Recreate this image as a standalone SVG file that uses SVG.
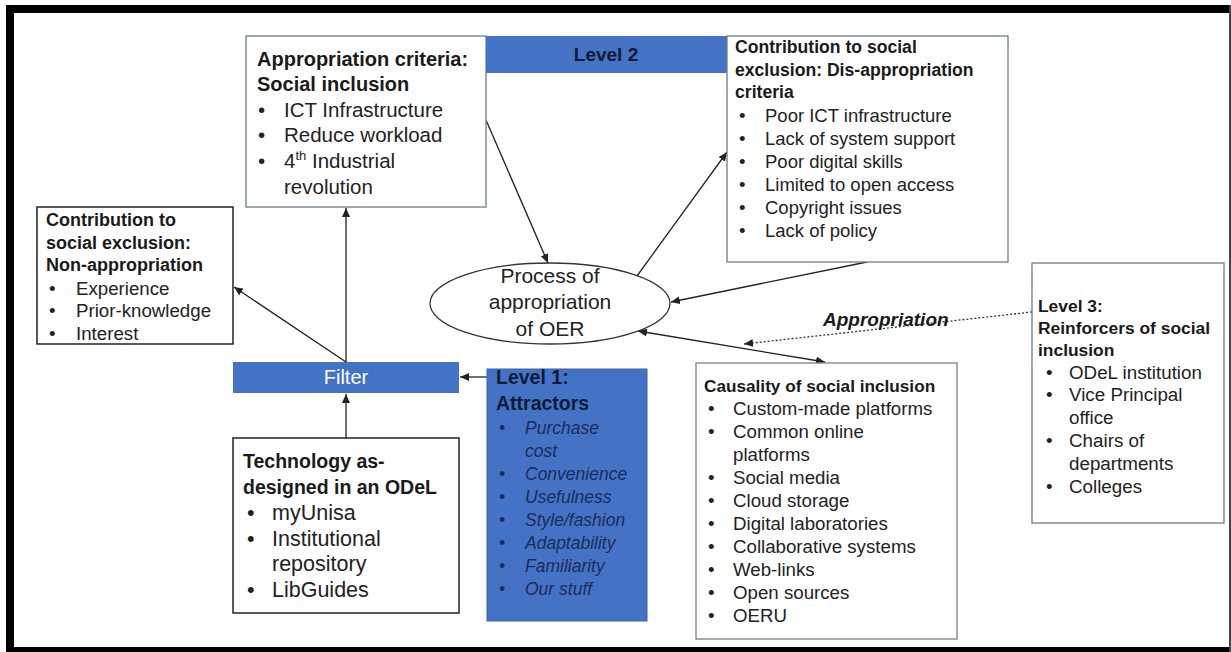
<svg xmlns="http://www.w3.org/2000/svg" width="1231" height="652" viewBox="0 0 1231 652">
<style>
text{font-family:"Liberation Sans",Arial,sans-serif;fill:#222}
.b{font-weight:bold;fill:#1a1a1a}
.box{fill:#fff;stroke:#6b7b8c;stroke-width:1.3}
.boxk{fill:#fff;stroke:#222;stroke-width:1.5}
.blue{fill:#4472C4}
.conn{stroke:#222;stroke-width:1.3;fill:none}
.l1{fill:#0e1a3a}
.l1i{fill:#1c2c5c;font-style:italic}
</style>
<defs>
<marker id="ah" markerUnits="userSpaceOnUse" markerWidth="10" markerHeight="8" refX="9" refY="4" orient="auto">
<path d="M0,0 L9,4 L0,8 Z" fill="#222"/>
</marker>
<marker id="as" markerUnits="userSpaceOnUse" markerWidth="10" markerHeight="8" refX="1" refY="4" orient="auto">
<path d="M10,0 L1,4 L10,8 Z" fill="#222"/>
</marker>
</defs>
<rect width="1231" height="652" fill="#fff"/>
<g id="frame">
<rect x="6" y="5" width="1225" height="8" fill="#000"/>
<rect x="6" y="5" width="8" height="647" fill="#000"/>
<rect x="6" y="647" width="1225" height="5" fill="#000"/>
<rect x="1229" y="5" width="2" height="647" fill="#444"/>
</g>
<g id="connectors">
<line class="conn" x1="346" y1="362" x2="346" y2="208" marker-end="url(#ah)"/>
<line class="conn" x1="346" y1="362" x2="234" y2="287" marker-end="url(#ah)"/>
<line class="conn" x1="346" y1="438" x2="346" y2="394" marker-end="url(#ah)"/>
<line class="conn" x1="487" y1="377" x2="460" y2="377" marker-end="url(#ah)"/>
<line class="conn" x1="486" y1="120" x2="548" y2="263" marker-end="url(#ah)"/>
<line class="conn" x1="637" y1="276" x2="727" y2="152" marker-end="url(#ah)"/>
<line class="conn" x1="867" y1="262" x2="671" y2="302" marker-end="url(#ah)"/>
<line class="conn" x1="638" y1="331" x2="825" y2="362" marker-start="url(#as)" marker-end="url(#ah)"/>
<line x1="1032" y1="312" x2="744" y2="344" stroke="#333" stroke-width="1.3" stroke-dasharray="2,2" marker-end="url(#ah)"/>
<text x="823" y="326" class="b" font-size="19" font-style="italic">Appropriation</text>
</g>
<g id="appropriation-criteria">
<rect class="box" x="246" y="36" width="240" height="171"/>
<text x="257" y="66" class="b" font-size="20">Appropriation criteria:</text>
<text x="257" y="91" class="b" font-size="20">Social inclusion</text>
<g font-size="20.5">
<text x="258" y="117">•</text><text x="284" y="117">ICT Infrastructure</text>
<text x="258" y="142">•</text><text x="284" y="142">Reduce workload</text>
<text x="258" y="168">•</text><text x="284" y="168">4<tspan font-size="13" dy="-8">th</tspan><tspan dy="8"> Industrial</tspan></text>
<text x="284" y="194">revolution</text>
</g>
</g>
<g id="level2">
<rect class="blue" x="486" y="36" width="241" height="37"/>
<text x="606" y="61" class="b" font-size="19" text-anchor="middle" style="fill:#111a33">Level 2</text>
</g>
<g id="dis-appropriation">
<rect class="box" x="727" y="36" width="281" height="226"/>
<text x="735" y="53" class="b" font-size="17.6">Contribution to social</text>
<text x="735" y="76" class="b" font-size="17.6">exclusion: Dis-appropriation</text>
<text x="735" y="98" class="b" font-size="17.6">criteria</text>
<g font-size="18.5">
<text x="739" y="122">•</text><text x="765" y="122">Poor ICT infrastructure</text>
<text x="739" y="145">•</text><text x="765" y="145">Lack of system support</text>
<text x="739" y="168">•</text><text x="765" y="168">Poor digital skills</text>
<text x="739" y="191">•</text><text x="765" y="191">Limited to open access</text>
<text x="739" y="214">•</text><text x="765" y="214">Copyright issues</text>
<text x="739" y="237">•</text><text x="765" y="237">Lack of policy</text>
</g>
</g>
<g id="non-appropriation">
<rect class="boxk" x="37" y="207" width="196" height="137"/>
<text x="46" y="226" class="b" font-size="18">Contribution to</text>
<text x="46" y="249" class="b" font-size="18">social exclusion:</text>
<text x="46" y="271" class="b" font-size="18">Non-appropriation</text>
<g font-size="18.7">
<text x="49" y="295">•</text><text x="76" y="295">Experience</text>
<text x="49" y="317">•</text><text x="76" y="317">Prior-knowledge</text>
<text x="49" y="340">•</text><text x="76" y="340">Interest</text>
</g>
</g>
<g id="process">
<ellipse cx="550" cy="303.5" rx="120" ry="40.5" fill="#fff" stroke="#333" stroke-width="1.3"/>
<g font-size="21" text-anchor="middle">
<text x="550" y="283">Process of</text>
<text x="550" y="309">appropriation</text>
<text x="550" y="336">of OER</text>
</g>
</g>
<g id="filter">
<rect class="blue" x="233" y="362" width="226" height="31"/>
<text x="346" y="384" font-size="20" text-anchor="middle" style="fill:#fff">Filter</text>
</g>
<g id="level1">
<rect x="487" y="369" width="160" height="252" fill="#4472C4" stroke="#3a62a8" stroke-width="1"/>
<text x="496" y="384" class="b l1" font-size="19.5">Level 1:</text>
<text x="496" y="410" class="b l1" font-size="19.5">Attractors</text>
<g font-size="17.5">
<text x="499" y="434" class="l1i">•</text><text x="525" y="434" class="l1i">Purchase</text>
<text x="525" y="457" class="l1i">cost</text>
<text x="499" y="480" class="l1i">•</text><text x="525" y="480" class="l1i">Convenience</text>
<text x="499" y="503" class="l1i">•</text><text x="525" y="503" class="l1i">Usefulness</text>
<text x="499" y="526" class="l1i">•</text><text x="525" y="526" class="l1i">Style/fashion</text>
<text x="499" y="549" class="l1i">•</text><text x="525" y="549" class="l1i">Adaptability</text>
<text x="499" y="572" class="l1i">•</text><text x="525" y="572" class="l1i">Familiarity</text>
<text x="499" y="595" class="l1i">•</text><text x="525" y="595" class="l1i">Our stuff</text>
</g>
</g>
<g id="technology">
<rect class="boxk" x="233" y="438" width="226" height="175"/>
<text x="243" y="468" class="b" font-size="19.5">Technology as-</text>
<text x="243" y="494" class="b" font-size="19.5">designed in an ODeL</text>
<g font-size="21.5">
<text x="247" y="520">•</text><text x="272" y="520">myUnisa</text>
<text x="247" y="546">•</text><text x="272" y="546">Institutional</text>
<text x="272" y="571">repository</text>
<text x="247" y="597">•</text><text x="272" y="597">LibGuides</text>
</g>
</g>
<g id="causality">
<rect x="696" y="363" width="261" height="276" fill="#fff" stroke="#7f7f7f" stroke-width="1.3"/>
<text x="704" y="392" class="b" font-size="17.2">Causality of social inclusion</text>
<g font-size="18.7">
<text x="708" y="415">•</text><text x="733" y="415">Custom-made platforms</text>
<text x="708" y="438">•</text><text x="733" y="438">Common online</text>
<text x="733" y="461">platforms</text>
<text x="708" y="484">•</text><text x="733" y="484">Social media</text>
<text x="708" y="507">•</text><text x="733" y="507">Cloud storage</text>
<text x="708" y="530">•</text><text x="733" y="530">Digital laboratories</text>
<text x="708" y="553">•</text><text x="733" y="553">Collaborative systems</text>
<text x="708" y="576">•</text><text x="733" y="576">Web-links</text>
<text x="708" y="599">•</text><text x="733" y="599">Open sources</text>
<text x="708" y="622">•</text><text x="733" y="622">OERU</text>
</g>
</g>
<g id="level3">
<rect class="box" x="1032" y="263" width="192" height="260"/>
<text x="1038" y="312" class="b" font-size="17.4">Level 3:</text>
<text x="1038" y="334" class="b" font-size="17.4">Reinforcers of social</text>
<text x="1038" y="356" class="b" font-size="17.4">inclusion</text>
<g font-size="18.8">
<text x="1046" y="379">•</text><text x="1069" y="379">ODeL institution</text>
<text x="1046" y="401">•</text><text x="1069" y="401">Vice Principal</text>
<text x="1069" y="424">office</text>
<text x="1046" y="447">•</text><text x="1069" y="447">Chairs of</text>
<text x="1069" y="470">departments</text>
<text x="1046" y="493">•</text><text x="1069" y="493">Colleges</text>
</g>
</g>
</svg>
